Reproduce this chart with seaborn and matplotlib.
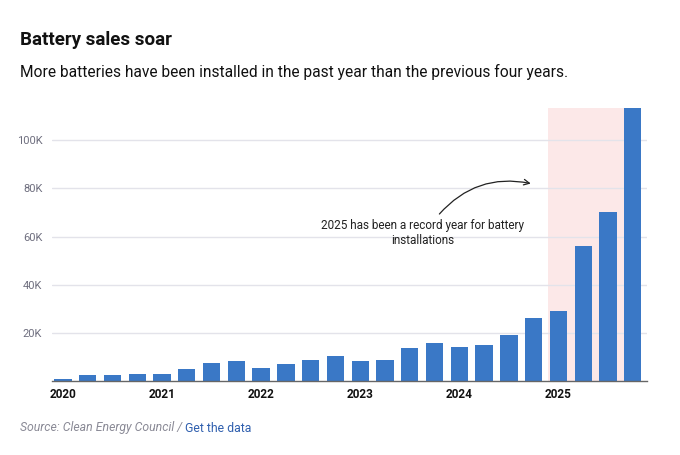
import numpy as np
import pandas as pd
import matplotlib.pyplot as plt
import seaborn as sns

##################################################################
# Data: quarterly battery installations
##################################################################
years = ['2020', '2021', '2022', '2023', '2024', '2025']
quarters = ['Q1', 'Q2', 'Q3', 'Q4']
installs = [1.0, 2.6, 2.4, 3.1,
            3.1, 4.9, 7.6, 8.2,
            5.4, 6.9, 8.8, 10.3,
            8.2, 8.9, 13.6, 15.8,
            14.3, 15.1, 19.2, 26.2,
            29.2, 56.2, 70.0, 113.4]   # thousands
ytick_vals = [20, 40, 60, 80, 100]
ytick_labels = ['20K', '40K', '60K', '80K', '100K']

periods = [y + ' ' + q for y in years for q in quarters]
df = pd.DataFrame({'period': periods, 'installs': installs})

##################################################################
# Plot
##################################################################
sns.set_style('white')
plt.rcParams['font.family'] = ['Roboto', 'DejaVu Sans']

fig = plt.figure(figsize=(6.8, 4.55), dpi=100)
ax = fig.add_axes([0.0765, 0.1626, 0.8745, 0.6])

# highlight the past year
ax.axvspan(19.58, 23.35, color='#fce8e8', zorder=0, lw=0)

sns.barplot(data=df, x='period', y='installs', color='#3a78c6',
            width=0.7, saturation=1, linewidth=0, edgecolor='none',
            ax=ax, zorder=3)

ax.set_xlim(-0.44, 23.56)
ax.set_ylim(0, max(installs))

ax.set_yticks(ytick_vals)
ax.set_yticklabels(ytick_labels, color='#6e6e7e', fontsize=8)
ax.set_xticks([i * 4 for i in range(len(years))])
ax.set_xticklabels(years, fontsize=8.5, fontweight='bold', color='#111111')
ax.tick_params(axis='both', length=0)
ax.tick_params(axis='y', pad=7)
ax.tick_params(axis='x', pad=5)
ax.set_xlabel('')
ax.set_ylabel('')

ax.yaxis.grid(True, color='#e3e3ea', lw=1, zorder=1)
ax.set_axisbelow(True)
for side in ['top', 'right', 'left']:
    ax.spines[side].set_visible(False)
ax.spines['bottom'].set_color('#666666')
ax.spines['bottom'].set_linewidth(1)
ax.spines['bottom'].set_zorder(4)

# annotation
ax.text(14.52, 61.5, '2025 has been a record year for battery\ninstallations',
        ha='center', va='center', fontsize=8.5, color='#222222',
        linespacing=1.15, zorder=5)
ax.annotate('', xy=(18.99, 81.8), xytext=(15.12, 68.5),
            arrowprops=dict(arrowstyle='->', color='#222222', lw=0.9,
                            connectionstyle='arc3,rad=-0.3'), zorder=5)

# titles
fig.text(20 / 680, 1 - 40 / 455, 'Battery sales soar', fontsize=13.5,
         fontweight='bold', color='#111111', va='center')
fig.text(20 / 680, 1 - 72 / 455,
         'More batteries have been installed in the past year than the previous four years.',
         fontsize=11.2, color='#111111', va='center')

# source
src = fig.text(20 / 680, 1 - 428 / 455, 'Source: Clean Energy Council / ',
               fontsize=8.8, style='italic', color='#8a8a96', va='center')
plt.annotate('Get the data', xy=(1, 0.5), xycoords=src, va='center', ha='left',
             fontsize=8.8, color='#2f5fae')

plt.savefig('out.png', dpi=100)
